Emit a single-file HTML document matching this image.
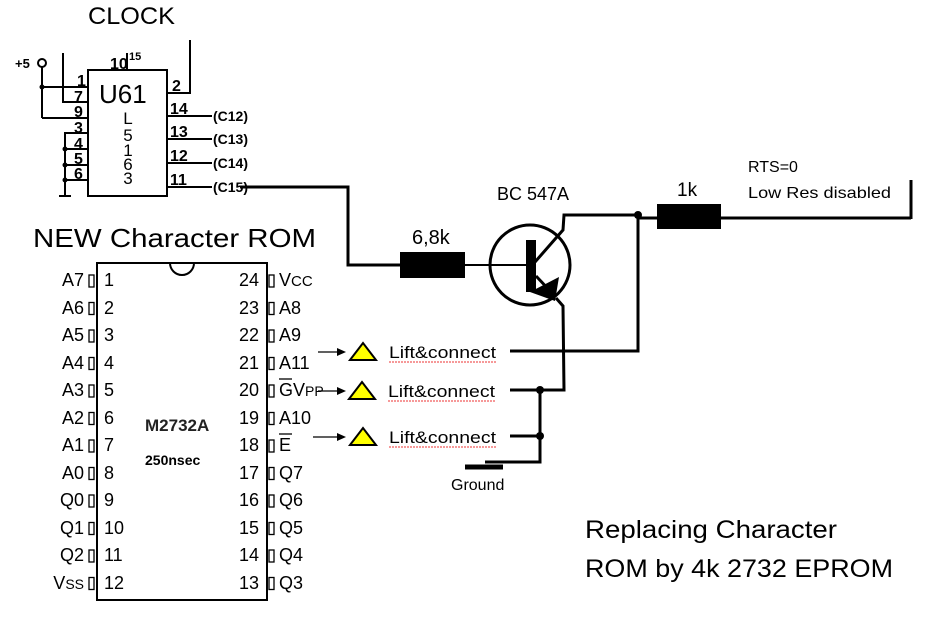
<!DOCTYPE html>
<html><head><meta charset="utf-8"><style>
html,body{margin:0;padding:0;background:#fff}
svg{display:block}
text{font-family:"Liberation Sans",sans-serif}
</style></head><body>
<svg width="927" height="618" viewBox="0 0 927 618" xmlns="http://www.w3.org/2000/svg">
<rect width="927" height="618" fill="#fff"/>
<text x="88" y="24" font-size="24" textLength="87" lengthAdjust="spacingAndGlyphs">CLOCK</text>
<g stroke="#000" stroke-width="2" fill="none">
<rect x="88" y="70" width="79" height="126"/>
<line x1="42" y1="66" x2="42" y2="118"/>
<line x1="42" y1="87" x2="88" y2="87"/>
<line x1="42" y1="118" x2="88" y2="118"/>
<polyline points="63,53 63,102 88,102"/>
<line x1="127" y1="53" x2="127" y2="70"/>
<polyline points="190,40 190,93 167,93"/>
<polyline points="88,133 65,133 65,196"/>
<line x1="65" y1="149" x2="88" y2="149"/>
<line x1="65" y1="165" x2="88" y2="165"/>
<line x1="65" y1="180" x2="88" y2="180"/>
<line x1="59" y1="196" x2="71" y2="196"/>
<line x1="167" y1="116" x2="212" y2="116"/>
<line x1="167" y1="139" x2="212" y2="139"/>
<line x1="167" y1="163" x2="212" y2="163"/>
<line x1="167" y1="187" x2="212" y2="187"/>
</g>
<circle cx="42" cy="63" r="4" fill="none" stroke="#000" stroke-width="2"/>
<circle cx="42" cy="87" r="2.5"/><circle cx="65" cy="149" r="2.5"/><circle cx="65" cy="165" r="2.5"/><circle cx="65" cy="180" r="2.5"/>
<g font-size="16" font-weight="bold">
<text x="15" y="68" font-size="13">+5</text>
<text x="77" y="86">1</text><text x="74" y="102">7</text><text x="74" y="117">9</text><text x="74" y="133">3</text>
<text x="74" y="149">4</text><text x="74" y="164">5</text><text x="74" y="179">6</text>
<text x="110" y="69">10</text><text x="129" y="60" font-size="11">15</text>
<text x="172" y="91">2</text><text x="170" y="114">14</text><text x="170" y="137">13</text><text x="170" y="161">12</text><text x="170" y="185">11</text>
</g>
<text x="99" y="103" font-size="26">U61</text>
<g font-size="17" text-anchor="middle"><text x="128" y="124">L</text><text x="128" y="141">5</text><text x="128" y="156">1</text><text x="128" y="170">6</text><text x="128" y="184">3</text></g>
<g font-size="14" font-weight="bold"><text x="213" y="121">(C12)</text><text x="213" y="144">(C13)</text><text x="213" y="168">(C14)</text><text x="213" y="192">(C15)</text></g>
<text x="33" y="247" font-size="26" textLength="283" lengthAdjust="spacingAndGlyphs">NEW Character ROM</text>
<rect x="97" y="263" width="170" height="337" fill="none" stroke="#000" stroke-width="2"/>
<path d="M170,263 A12,12 0 0 0 194,263" fill="none" stroke="#000" stroke-width="2"/>
<g font-size="18" fill="#000">
<g text-anchor="end">
<text x="84" y="286">A7</text><text x="84" y="314">A6</text><text x="84" y="341">A5</text><text x="84" y="369">A4</text><text x="84" y="396">A3</text><text x="84" y="424">A2</text><text x="84" y="451">A1</text><text x="84" y="479">A0</text><text x="84" y="506">Q0</text><text x="84" y="534">Q1</text><text x="84" y="561">Q2</text><text x="84" y="589">V<tspan font-size="14">SS</tspan></text>
<text x="259" y="286">24</text><text x="259" y="314">23</text><text x="259" y="341">22</text><text x="259" y="369">21</text><text x="259" y="396">20</text><text x="259" y="424">19</text><text x="259" y="451">18</text><text x="259" y="479">17</text><text x="259" y="506">16</text><text x="259" y="534">15</text><text x="259" y="561">14</text><text x="259" y="589">13</text>
</g>
<text x="104" y="286">1</text><text x="104" y="314">2</text><text x="104" y="341">3</text><text x="104" y="369">4</text><text x="104" y="396">5</text><text x="104" y="424">6</text><text x="104" y="451">7</text><text x="104" y="479">8</text><text x="104" y="506">9</text><text x="104" y="534">10</text><text x="104" y="561">11</text><text x="104" y="589">12</text>
<text x="279" y="286">V<tspan font-size="15">CC</tspan></text><text x="279" y="314">A8</text><text x="279" y="341">A9</text><text x="279" y="369">A11</text><text x="279" y="396">GV<tspan font-size="14">PP</tspan></text><text x="279" y="424">A10</text><text x="279" y="451">E</text><text x="279" y="479">Q7</text><text x="279" y="506">Q6</text><text x="279" y="534">Q5</text><text x="279" y="561">Q4</text><text x="279" y="589">Q3</text>
</g>
<g stroke="#000" stroke-width="1.3" fill="none">
<line x1="279" y1="379" x2="292" y2="379"/><line x1="279" y1="434" x2="292" y2="434"/>
<g id="lp"><rect x="89" y="275" width="5" height="12"/><rect x="269" y="275" width="5" height="12"/></g>
<use href="#lp" y="27.5"/><use href="#lp" y="55"/><use href="#lp" y="82.5"/><use href="#lp" y="110"/><use href="#lp" y="137.5"/><use href="#lp" y="165"/><use href="#lp" y="192.5"/><use href="#lp" y="220"/><use href="#lp" y="247.5"/><use href="#lp" y="275"/><use href="#lp" y="302.5"/>
</g>
<text x="145" y="431" font-size="17" font-weight="bold" fill="#222">M2732A</text>
<text x="145" y="465" font-size="14" font-weight="bold">250nsec</text>
<g stroke="#000" stroke-width="1.3"><line x1="318" y1="352" x2="340" y2="352"/><line x1="318" y1="391" x2="340" y2="391"/><line x1="313" y1="437" x2="340" y2="437"/></g>
<g fill="#000"><polygon points="337,348 346,352 337,356"/><polygon points="337,387 346,391 337,395"/><polygon points="337,433 346,437 337,441"/></g>
<g fill="#ff0" stroke="#000" stroke-width="2"><polygon points="350,360 363,343 376,360"/><polygon points="349,399 362,382 375,399"/><polygon points="350,445 363,428 376,445"/></g>
<g font-size="17"><text x="389" y="358" textLength="107" lengthAdjust="spacingAndGlyphs">Lift&amp;connect</text><text x="388" y="397" textLength="107" lengthAdjust="spacingAndGlyphs">Lift&amp;connect</text><text x="389" y="443" textLength="107" lengthAdjust="spacingAndGlyphs">Lift&amp;connect</text></g>
<g stroke="#e33" stroke-width="1" fill="none" stroke-dasharray="2,1"><line x1="389" y1="362" x2="496" y2="362"/><line x1="388" y1="401" x2="495" y2="401"/><line x1="389" y1="447" x2="496" y2="447"/></g>
<g stroke="#000" stroke-width="3" fill="none">
<polyline points="240,187 348,187 348,265 400,265"/>
<line x1="465" y1="265" x2="530" y2="265" stroke-width="2"/>
<polyline points="535,262 563,230 564,215 638,215 638,351 510,351"/>
<line x1="720" y1="218" x2="911" y2="218"/>
<line x1="911" y1="180" x2="911" y2="219"/>
<line x1="638" y1="218" x2="657" y2="218"/>
<polyline points="556,298 563,306 564,390 510,390"/>
<polyline points="540,390 540,462 485,462"/>
<line x1="510" y1="436" x2="540" y2="436"/>
<line x1="465" y1="467" x2="503" y2="467" stroke-width="5"/>
</g>
<rect x="400" y="252" width="65" height="26"/>
<rect x="657" y="204" width="64" height="25"/>
<circle cx="530" cy="265" r="40" fill="none" stroke="#000" stroke-width="3"/>
<rect x="526" y="240" width="10" height="52"/>
<line x1="536" y1="276" x2="552" y2="293" stroke="#000" stroke-width="3"/>
<polygon points="530,292 559,277 555,301"/>
<circle cx="638" cy="215" r="4"/><circle cx="540" cy="390" r="4"/><circle cx="540" cy="436" r="4"/>
<g font-size="18">
<text x="497" y="200">BC 547A</text>
<text x="412" y="244" font-size="20">6,8k</text>
<text x="677" y="196" font-size="19">1k</text>
<text x="748" y="172" font-size="16">RTS=0</text>
<text x="748" y="198" font-size="16" textLength="143" lengthAdjust="spacingAndGlyphs">Low Res disabled</text>
<text x="451" y="490" font-size="16">Ground</text>
</g>
<text x="585" y="538" font-size="25" textLength="252" lengthAdjust="spacingAndGlyphs">Replacing Character</text>
<text x="585" y="577" font-size="25" textLength="308" lengthAdjust="spacingAndGlyphs">ROM by 4k 2732 EPROM</text>
</svg>
</body></html>
